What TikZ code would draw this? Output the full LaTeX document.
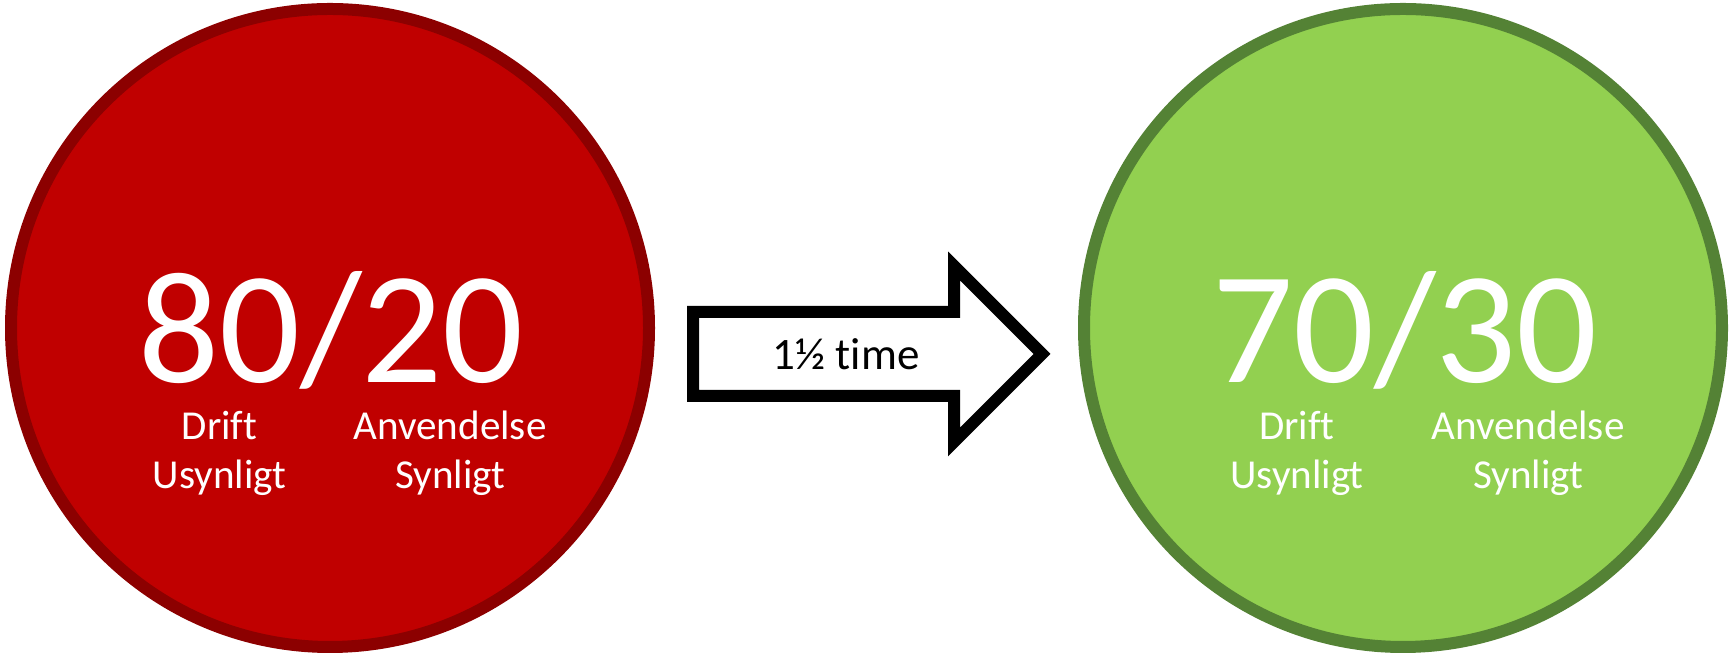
\documentclass[tikz,border=0pt]{standalone}
\usepackage{fontspec}
\setmainfont[Ligatures=NoCommon]{Carlito}
\definecolor{redfill}{HTML}{C00000}
\definecolor{redring}{HTML}{8C0000}
\definecolor{greenfill}{HTML}{92D050}
\definecolor{greenring}{HTML}{548235}

\begin{document}
\begin{tikzpicture}[
  ring/.style={line width=0.12cm},
  ratio/.style={white, anchor=base, font=\fontsize{45.5}{50}\selectfont},
  label/.style={white, anchor=base, align=center, font=\fontsize{11.7}{14.2}\selectfont},
]
\useasboundingbox (0,0) rectangle (17.29,6.56);
% before
\draw [ring, draw=redring, fill=redfill] (3.30,3.28) coordinate(before) circle (3.19);
\node[ratio] (oldratio) at (3.31,2.73) {80/20};
\node[label] (olddrift) at (2.195,1.67) {Drift\\Usynligt};
\node[label] (olduse) at (4.50,1.67) {Anvendelse\\Synligt};
% after
\draw [ring, draw=greenring, fill=greenfill] (14.03,3.28) coordinate(after) circle (3.19);
\node[ratio] (newratio) at (14.05,2.73) {70/30};
\node[label] (newdrift) at (12.97,1.67) {Drift\\Usynligt};
\node[label] (newuse) at (15.28,1.67) {Anvendelse\\Synligt};
% arrow
\draw [ring, fill=white] (6.93,2.60) -- (6.93,3.44) -- (9.54,3.44) -- (9.54,3.90) -- (10.42,3.02) coordinate(tip)
  -- (9.54,2.14) -- (9.54,2.60) -- cycle;
\node[font=\fontsize{12.8}{15}\selectfont] (time) at (8.46,3.02) {1½ time};
\end{tikzpicture}
\end{document}
